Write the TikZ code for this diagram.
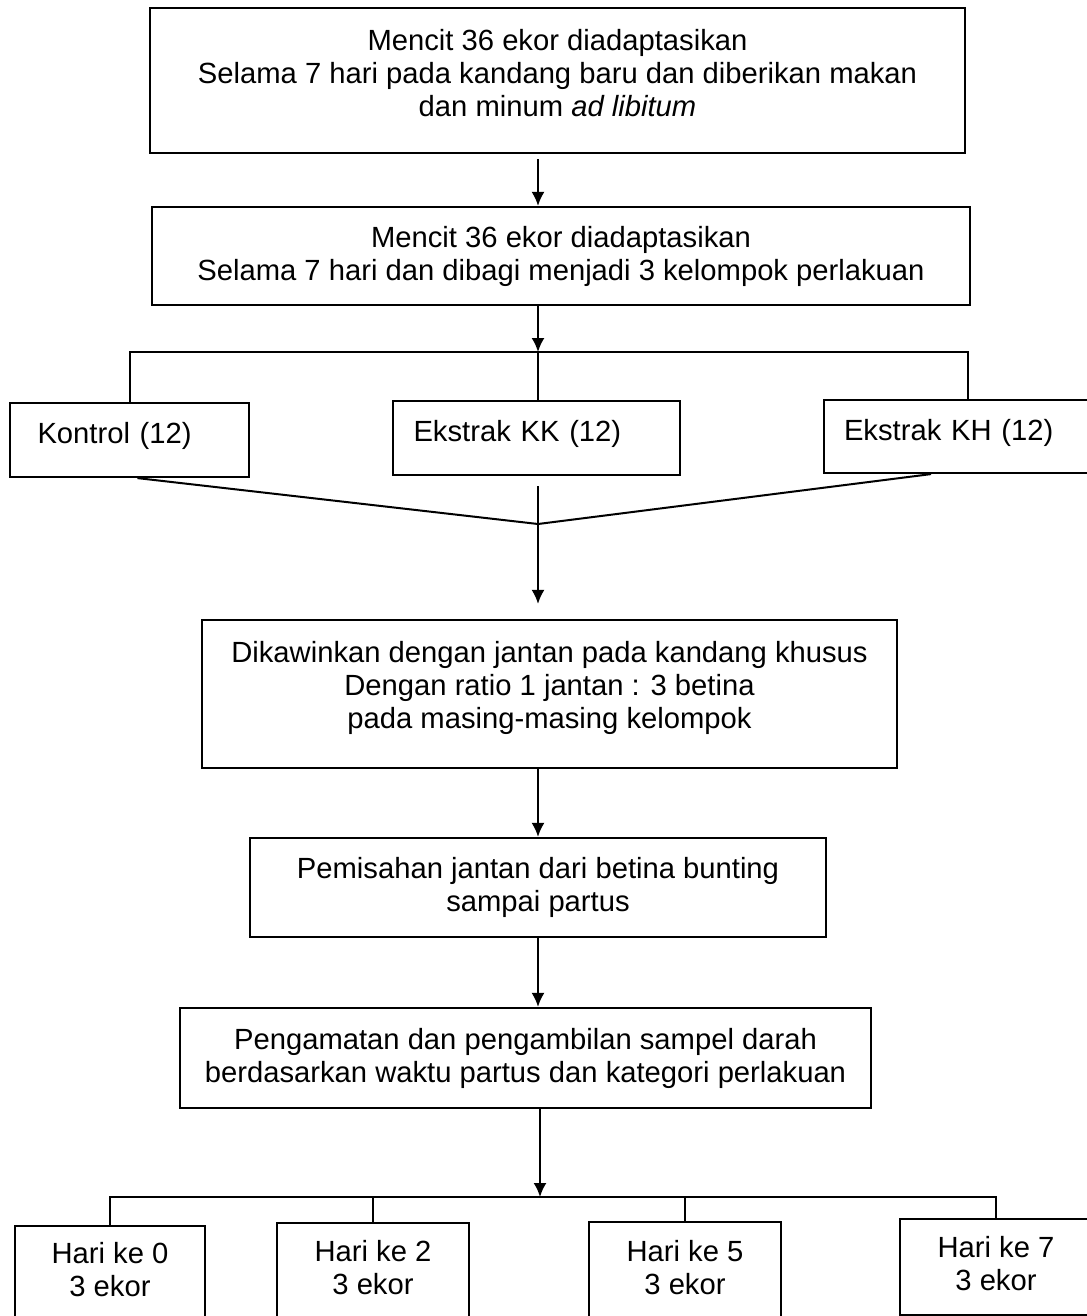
\documentclass[tikz,border=0pt]{standalone}
\usepackage{fontspec}
\setmainfont{Liberation Sans}
\usetikzlibrary{positioning,arrows.meta}

\begin{document}
\begin{tikzpicture}[
x=0.5pt, y=-0.5pt,
font=\fontsize{14.6}{16.5}\selectfont,
line width=1pt,
kotak/.style={
    draw,
    line width=1.1pt,
    align=center,
    inner sep=0pt
},
kelompok/.style={
    draw,
    line width=1.1pt,
    align=left,
    anchor=center,
    inner xsep=10pt
},
naik/.style={
    execute at end node={\rule[-#1]{0pt}{0pt}}
},
panah/.style={
    -{Latex[length=7pt,width=6.5pt]}
}
]
\useasboundingbox (0,0) rectangle (1086,1316);

% Tahap adaptasi
\node[kotak, naik=7.5pt, minimum width=407.5pt, minimum height=72.5pt] (adaptasi) at (557.5,80.5) {
Mencit 36 ekor diadaptasikan\\
Selama 7 hari pada kandang baru dan diberikan makan\\
dan minum \textit{ad libitum}
};

\node[kotak, minimum width=409pt, minimum height=49pt] (pembagian) at (561,256) {
Mencit 36 ekor diadaptasikan\\
Selama 7 hari dan dibagi menjadi 3 kelompok perlakuan
};

\coordinate (sumbu) at (538,0);
\coordinate (cabang) at (538,352);
\coordinate (temu) at (538,524);

% Kelompok perlakuan
\node[kelompok, naik=7pt, minimum width=119.5pt, minimum height=37pt, text width=92pt] (kontrol) at (129.5,440) {Kontrol (12)};
\node[kelompok, naik=7pt, minimum width=143.5pt, minimum height=37pt, text width=123pt] (ekstrakkk) at (536.5,438) {Ekstrak KK (12)};
\node[kelompok, naik=7pt, minimum width=134pt, minimum height=36.5pt, text width=114pt] (ekstrakkh) at (958,436.5) {Ekstrak KH (12)};

% Tahap perkawinan dan pengamatan
\node[kotak, naik=9pt, minimum width=347.5pt, minimum height=74pt] (kawin) at (549.5,694) {
Dikawinkan dengan jantan pada kandang khusus\\
Dengan ratio 1 jantan : 3 betina\\
pada masing-masing kelompok
};

\node[kotak, minimum width=288pt, minimum height=49.5pt] (pemisahan) at (538,887.5) {
Pemisahan jantan dari betina bunting\\
sampai partus
};

\node[kotak, minimum width=345.5pt, minimum height=50pt] (pengamatan) at (525.5,1058) {
Pengamatan dan pengambilan sampel darah\\
berdasarkan waktu partus dan kategori perlakuan
};

\coordinate (cabangdua) at (540,1197);

% Waktu pengambilan sampel
\node[kotak, naik=4pt, minimum width=95pt, minimum height=47pt] (hari0) at (110,1273) {Hari ke 0\\3 ekor};
\node[kotak, naik=4pt, minimum width=96pt, minimum height=48.5pt] (hari2) at (373,1271.5) {Hari ke 2\\3 ekor};
\node[kotak, naik=4pt, minimum width=96pt, minimum height=49pt] (hari5) at (685,1271) {Hari ke 5\\3 ekor};
\node[kotak, naik=4pt, minimum width=96pt, minimum height=48pt] (hari7) at (996,1267) {Hari ke 7\\3 ekor};

% Panah utama
\draw[panah, shorten <=2.5pt]
(adaptasi.south -| sumbu) -- (pembagian.north -| sumbu);

\draw[panah]
(pembagian.south -| sumbu) -- (cabang);

\draw
(kontrol.north) |- (cabang) -| ([xshift=5pt]ekstrakkh.north);

\draw
(cabang) -- (cabang |- ekstrakkk.north);

\draw
([xshift=4pt]kontrol.south) -- (temu) -- ([xshift=-13.5pt]ekstrakkh.south);

\draw[panah, shorten <=5pt, shorten >=7.5pt]
(ekstrakkk.south -| sumbu) -- (kawin.north -| sumbu);

\draw[panah]
(kawin.south -| sumbu) -- (pemisahan.north -| sumbu);

\draw[panah]
(pemisahan.south -| sumbu) -- (pengamatan.north -| sumbu);

\draw[panah]
(pengamatan.south -| cabangdua) -- (cabangdua);

% Cabang hari
\draw
(hari0.north) |- (cabangdua) -| (hari7.north);

\draw
(hari2.north) -- (hari2.north |- cabangdua);

\draw
(hari5.north) -- (hari5.north |- cabangdua);

\end{tikzpicture}
\end{document}
